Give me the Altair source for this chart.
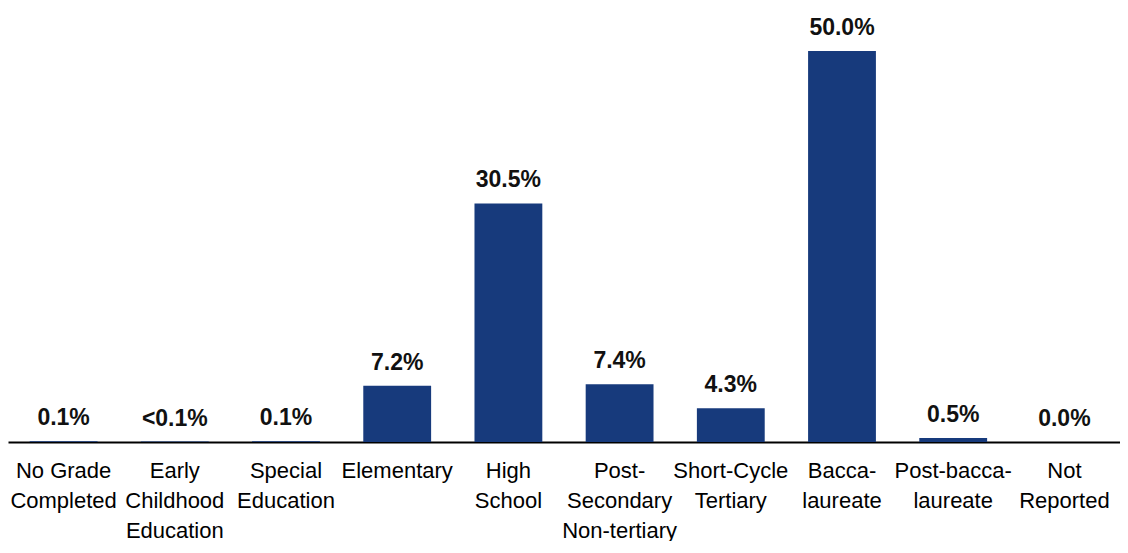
import altair as alt
import pandas as pd

categories = [
    "No Grade|Completed",
    "Early|Childhood|Education",
    "Special|Education",
    "Elementary",
    "High|School",
    "Post-|Secondary|Non-tertiary",
    "Short-Cycle|Tertiary",
    "Bacca-|laureate",
    "Post-bacca-|laureate",
    "Not|Reported",
]
values = [0.1, 0.05, 0.1, 7.2, 30.5, 7.4, 4.3, 50.0, 0.5, 0.0]
value_labels = ["0.1%", "<0.1%", "0.1%", "7.2%", "30.5%", "7.4%", "4.3%", "50.0%", "0.5%", "0.0%"]

df = pd.DataFrame({"cat": categories, "val": values, "lab": value_labels})

FONT = "Liberation Sans"

x = alt.X(
    "cat:N",
    sort=categories,
    scale=alt.Scale(paddingInner=0.39, paddingOuter=0.195),
    axis=alt.Axis(
        title=None,
        ticks=False,
        grid=False,
        domainColor="black",
        domainWidth=2,
        labelExpr="split(datum.label, '|')",
        labelFont=FONT,
        labelFontSize=22,
        labelColor="black",
        labelAngle=0,
        labelPadding=18,
        labelLineHeight=30,
        labelBaseline="top",
        labelLimit=0,
        labelOverlap=False,
    ),
)
y = alt.Y("val:Q", scale=alt.Scale(domain=[0, 55.5], nice=False, zero=True), axis=None)

bars = alt.Chart(df).mark_bar(color="#173a7c").encode(x=x, y=y)
text = alt.Chart(df).mark_text(
    font=FONT, fontSize=23, fontWeight="bold", color="#111111",
    baseline="alphabetic", dy=-16
).encode(x=x, y=y, text="lab:N")

chart = (bars + text).properties(
    width=1112, height=434, padding=0, autosize=alt.AutoSizeParams(type="pad"),
    background="white"
).configure_view(stroke=None)

chart.save("out.html", embed_options={"renderer": "svg", "actions": False})
